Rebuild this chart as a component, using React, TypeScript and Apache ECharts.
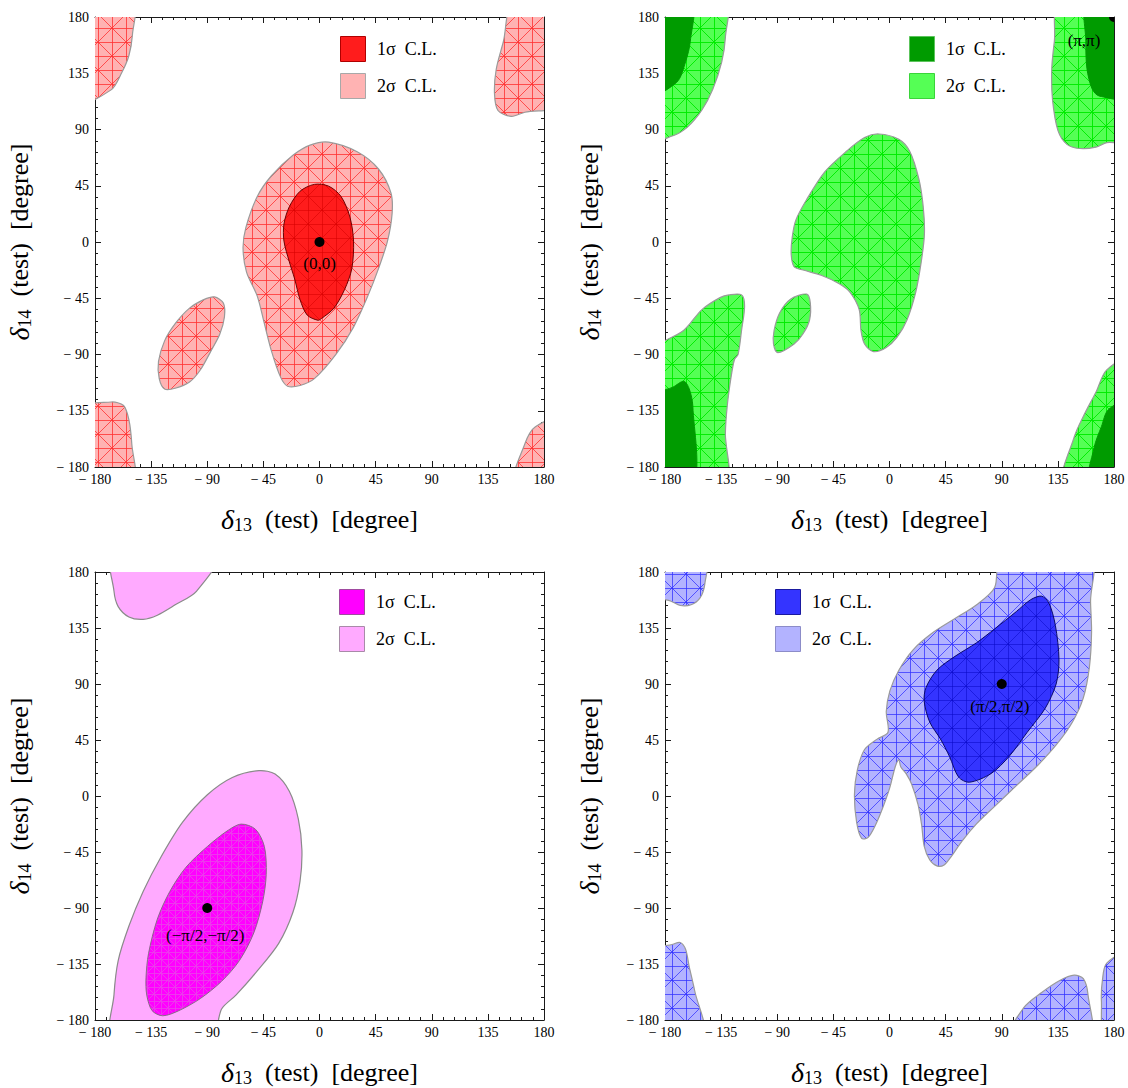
import React, { useEffect, useRef } from "react";
import * as echarts from "echarts";

type Pt = [number, number];

const FONT = '"Liberation Serif", "Times New Roman", serif';
const AXIS_MIN = -180;
const AXIS_MAX = 180;
const AXIS_STEP = 45;
const TICKS = [-180, -135, -90, -45, 0, 45, 90, 135, 180];

const X_TITLE = "{d|δ}{s|13}{t|  (test)  [degree]}";
const Y_TITLE = "{d|δ}{s|14}{t|  (test)  [degree]}";
const LEGEND_1S = "1σ  C.L.";
const LEGEND_2S = "2σ  C.L.";

// ---- true values (0, 0): red ----
const RED_BEST: Pt = [0, 0];
const RED_2S: Pt[][] = [
  [[7.3, 79.9], [30.2, 72.2], [47.3, 58.4], [57.3, 39.2], [58.2, 22.7], [54.5, 0.7], [47.3, -21.3], [38.7, -43.3], [27.3, -68.1], [13, -90.1], [-4.1, -109.3], [-15.6, -114.8], [-25.6, -115.4], [-31.3, -107.9], [-38.5, -87.3], [-44.2, -65.3], [-49.9, -43.3], [-58.5, -24.1], [-61.3, -4.8], [-59, 11.7], [-49.9, 36.4], [-38.5, 53], [-21.3, 69.4], [-7, 77.7]],
  [[-84.2, -43.9], [-77.1, -48.8], [-76.2, -59.8], [-79.9, -73.6], [-87.1, -87.3], [-95.6, -102.4], [-104.2, -112], [-115.7, -117], [-124.2, -117.6], [-128.5, -109.3], [-129.1, -95.6], [-124.2, -79.1], [-115.7, -65.3], [-104.2, -52.9], [-92.8, -46.1]],
  [[-180, 180], [-149.4, 180], [-150, 165.7], [-152.8, 149.2], [-158.6, 135.4], [-167.1, 121.7], [-180, 111.2]],
  [[156, 180], [147.4, 160.2], [141.7, 138.2], [140.3, 118.9], [143.1, 105.2], [153.7, 100.5], [164.6, 103.8], [180, 110.7], [180, 180]],
  [[-180, -134.1], [-167.1, -128], [-157.1, -130.8], [-152.8, -142.3], [-150.5, -161.6], [-149.4, -180], [-180, -180]],
  [[156, -180], [164.6, -161.6], [173.1, -147.8], [180, -140.9], [180, -180]],
];
const RED_1S: Pt[][] = [
  [[-4.1, 46.1], [7.3, 44.7], [17.3, 36.4], [24.4, 19.9], [27.3, 0.7], [25.9, -21.3], [20.2, -37.8], [11.6, -52.9], [1.6, -61.2], [-1.3, -62.6], [-9.9, -58.4], [-15.6, -46.1], [-19.9, -29.6], [-24.2, -15.8], [-28.5, 0.7], [-28.5, 14.4], [-24.2, 28.2], [-15.6, 40.6]],
];

// ---- true values (π, π): green ----
const GREEN_BEST: Pt = [180, 180];
const GREEN_2S: Pt[][] = [
  [[-8.4, 86.4], [7.5, 82.2], [16.2, 72.6], [23.5, 50.6], [27, 28.5], [28, 6.5], [25.5, -15.5], [21, -40.3], [14, -62.4], [6.1, -76.1], [-2.6, -84.4], [-12.8, -87.7], [-20, -81.6], [-22.9, -70.6], [-24.3, -54.1], [-31.6, -40.3], [-40.3, -33.4], [-54.8, -26.6], [-69.3, -22.4], [-76.5, -19.7], [-78.8, -10], [-78, 3.7], [-75.1, 17.5], [-66.4, 34], [-51.9, 56.1], [-34.5, 72.6], [-20, 83.6]],
  [[-66.4, -41.7], [-63.5, -48.6], [-64.1, -62.4], [-69.3, -73.4], [-76.5, -81.6], [-89.6, -88.5], [-93, -81.6], [-92.5, -70.6], [-88.1, -56.8], [-79.4, -45.8]],
  [[-180, -91.3], [-164.9, -70.6], [-150.4, -54.1], [-135.9, -44.5], [-128.7, -42.3], [-118.6, -42.3], [-116.2, -51.3], [-118.6, -70.6], [-121.4, -89.9], [-124.3, -94], [-127.2, -109.2], [-130.1, -131.2], [-131.6, -153.2], [-131.6, -180], [-180, -180]],
  [[-180, 180], [-131.6, 180], [-131.6, 163.5], [-134.5, 144.2], [-141.7, 122.2], [-150.4, 105.6], [-162, 91.9], [-173.6, 85], [-180, 80.9]],
  [[136.5, 180], [132.2, 160.7], [130.1, 138.7], [130.7, 113.9], [135.1, 89.1], [142.3, 78.1], [152.5, 74.8], [165.5, 75.9], [174.2, 79.5], [180, 81.4], [180, 180]],
  [[139.4, -180], [148.1, -156], [156.8, -136.7], [165.5, -120.2], [174.2, -102.3], [180, -92.7], [180, -180]],
];
const GREEN_1S: Pt[][] = [
  [[-180, -125.7], [-173.6, -116.1], [-164.9, -111.4], [-160.6, -117.4], [-157.7, -131.2], [-157.7, -180], [-180, -180]],
  [[-180, 180], [-158.6, 180], [-159.7, 160.7], [-163.5, 144.2], [-170.7, 127.7], [-180, 116.7]],
  [[158.3, 180], [157.4, 160.7], [158.3, 138.7], [162.6, 122.2], [168.4, 116.7], [180, 116.1], [180, 180]],
  [[160.3, -180], [164.1, -164.3], [169.9, -147.7], [175.7, -133.9], [180, -125.7], [180, -180]],
];

// ---- true values (−π/2, −π/2): magenta ----
const MAGENTA_BEST: Pt = [-90, -90];
const MAGENTA_2S: Pt[][] = [
  [[-48.5, 20.4], [-35.6, 17.6], [-24.2, 3.8], [-17, -18.4], [-14.1, -43.4], [-15.6, -68.4], [-21.3, -93.4], [-32.7, -118.4], [-49.9, -140.6], [-67, -160], [-78.5, -171.1], [-87.1, -180], [-165.7, -180], [-164.8, -160], [-161.4, -132.2], [-152.8, -104.5], [-141.4, -76.7], [-127.1, -49], [-109.9, -21.2], [-89.9, 1], [-69.9, 14.9]],
  [[-165.7, 180], [-164.8, 164.7], [-161.4, 152.2], [-152.8, 143.9], [-141.4, 142], [-130, 145.3], [-115.7, 153.6], [-98.5, 164.7], [-81.3, 180]],
];
const MAGENTA_1S: Pt[][] = [
  [[-62.8, -22.6], [-51.3, -26.8], [-44.2, -40.6], [-42.7, -62.9], [-45.6, -85.1], [-52.7, -110], [-64.2, -132.2], [-78.5, -148.9], [-95.6, -162.8], [-112.8, -172.5], [-125.7, -176.6], [-134.2, -172.5], [-138.5, -160], [-139.1, -146.1], [-137.1, -126.7], [-130, -98.9], [-120, -76.7], [-107.1, -57.3], [-89.9, -40.6], [-74.2, -28.2]],
];

// ---- true values (π/2, π/2): blue ----
const BLUE_BEST: Pt = [90, 90];
const BLUE_2S: Pt[][] = [
  [[90.1, 180], [161.2, 180], [161.2, 156.5], [162, 131.5], [160.3, 103.8], [155.4, 78.9], [146.7, 59.5], [135.1, 42.9], [119.1, 24.9], [101.7, 8.3], [84.3, -8.3], [69.9, -22.2], [58.3, -36], [49.6, -48.5], [43.8, -55.4], [38, -56.2], [32.2, -51.2], [27.8, -40.2], [25.8, -23.5], [22.9, -6.9], [17.7, 9.7], [13.3, 18], [9, 23.5], [7.5, 29.1], [4.6, 23.5], [0.3, 6.9], [-5.5, -9.7], [-11.3, -23.5], [-17.1, -33.2], [-22.3, -34.1], [-26.4, -20.8], [-28.1, 1.4], [-25.8, 20.8], [-20, 37.4], [-9.9, 45.7], [-1.2, 51.2], [-2.6, 67.8], [0.3, 84.5], [7.5, 101.1], [19.1, 117.7], [35.1, 131.5], [52.5, 142.6], [69.9, 153.7], [84.3, 167.5]],
  [[-180, 180], [-147.5, 180], [-148.1, 170.3], [-151.9, 159.2], [-159.1, 153.7], [-167.8, 153.1], [-175.1, 156.5], [-180, 163.4]],
  [[175.7, 180], [180, 180], [180, 173.1]],
  [[-180, -126], [-173.6, -119.1], [-167.8, -117.7], [-163.5, -123.2], [-160.6, -137.1], [-156.2, -156.5], [-149, -180], [-180, -180]],
  [[95.9, -180], [107.5, -170.3], [122, -157.9], [136.5, -148.2], [148.1, -144], [155.4, -146.8], [159.1, -159.2], [160.3, -180]],
  [[180, -124.6], [174.2, -134.3], [170.7, -148.2], [169.9, -164.8], [172.8, -180], [180, -180]],
];
const BLUE_1S: Pt[][] = [
  [[122, 160.6], [127.8, 155.1], [133, 137.1], [135.9, 109.4], [133.6, 90], [124.9, 70.6], [110.4, 51.2], [95.9, 31.8], [81.4, 18], [64.1, 11.1], [55.4, 15.2], [48.1, 31.8], [40.9, 45.7], [32.2, 59.5], [27.8, 76.1], [29.3, 87.2], [38, 101.1], [52.5, 112.2], [69.9, 123.2], [84.3, 134.3], [101.7, 148.2], [113.3, 157.8]],
];

interface Panel {
  left: number; top: number; width: number; height: number;
  outer: Pt[][]; inner: Pt[][];
  outerFill: string; outerMesh: string | null; outerStroke: string;
  innerFill: string; innerMesh: string | null; innerStroke: string; innerMeshCell: number;
  innerSwatchStroke: string; outerSwatchStroke: string;
  best: Pt; bestLabel: string; labelOffset: [number, number];
  legendX: number; legendY: number;
}

const PANELS: Panel[] = [
  {
    left: 95, top: 17, width: 449, height: 450,
    outer: RED_2S, inner: RED_1S,
    outerFill: "#ffb3b3", outerMesh: "rgba(255,50,50,0.8)", outerStroke: "#9a9a9a",
    innerFill: "#ff1c1c", innerMesh: "rgba(215,0,0,0.55)", innerStroke: "#6e0000", innerMeshCell: 28,
    innerSwatchStroke: "#b00000", outerSwatchStroke: "#a8a8a8",
    best: RED_BEST, bestLabel: "(0,0)", labelOffset: [0, 21],
    legendX: 245, legendY: 19,
  },
  {
    left: 665, top: 17, width: 449, height: 450,
    outer: GREEN_2S, inner: GREEN_1S,
    outerFill: "#55ff55", outerMesh: "rgba(0,235,0,0.95)", outerStroke: "#9a9a9a",
    innerFill: "#009b00", innerMesh: null, innerStroke: "#009b00", innerMeshCell: 28,
    innerSwatchStroke: "#5cc45c", outerSwatchStroke: "#3ad43a",
    best: GREEN_BEST, bestLabel: "(π,π)", labelOffset: [-30, 23],
    legendX: 244, legendY: 19,
  },
  {
    left: 95, top: 572, width: 449, height: 449,
    outer: MAGENTA_2S, inner: MAGENTA_1S,
    outerFill: "#ffaaff", outerMesh: null, outerStroke: "#8a8a8a",
    innerFill: "#ff00ff", innerMesh: "rgba(235,60,235,0.9)", innerStroke: "#8a6a8a", innerMeshCell: 14,
    innerSwatchStroke: "#a04aa0", outerSwatchStroke: "#a88aa8",
    best: MAGENTA_BEST, bestLabel: "(−π/2,−π/2)", labelOffset: [-2, 27],
    legendX: 244, legendY: 17,
  },
  {
    left: 665, top: 572, width: 449, height: 449,
    outer: BLUE_2S, inner: BLUE_1S,
    outerFill: "#b3b3ff", outerMesh: "rgba(50,50,255,0.75)", outerStroke: "#9a9a9a",
    innerFill: "#3434ff", innerMesh: "rgba(10,10,200,0.55)", innerStroke: "#0a0a6a", innerMeshCell: 28,
    innerSwatchStroke: "#1a1aa0", outerSwatchStroke: "#8c8cc8",
    best: BLUE_BEST, bestLabel: "(π/2,π/2)", labelOffset: [-2, 22],
    legendX: 110, legendY: 17,
  },
];

function tickLabel(v: number): string {
  if (!TICKS.includes(v)) return "";
  return v < 0 ? `− ${-v}` : `${v}`;
}

// Square mesh tile (cell edges, midlines and both diagonals) used as a fill pattern.
function meshPattern(fill: string, line: string | null, cell: number, ox: number, oy: number): any {
  if (!line) return fill;
  const c = document.createElement("canvas");
  c.width = cell;
  c.height = cell;
  const g = c.getContext("2d")!;
  g.fillStyle = fill;
  g.fillRect(0, 0, cell, cell);
  g.strokeStyle = line;
  g.lineWidth = 1;
  const h = cell / 2;
  g.beginPath();
  [0.5, h + 0.5].forEach((p) => {
    g.moveTo(p, 0); g.lineTo(p, cell);
    g.moveTo(0, p); g.lineTo(cell, p);
  });
  g.moveTo(0, 0); g.lineTo(cell, cell);
  g.moveTo(cell, 0); g.lineTo(0, cell);
  g.stroke();
  return { image: c, repeat: "repeat", imageWidth: cell, imageHeight: cell, x: ox, y: oy };
}

// Vertices lying on the frame are pushed slightly outside so smoothing never pulls the fill off the edge.
const widen = (v: number) => (v >= AXIS_MAX ? v + 15 : v <= AXIS_MIN ? v - 15 : v);

function regionSeries(idx: number, polys: Pt[][], style: any) {
  return {
    type: "custom",
    xAxisIndex: idx * 2,
    yAxisIndex: idx * 2,
    clip: true,
    silent: true,
    data: polys.map((p) => p[0]),
    renderItem: (params: any, api: any) => {
      const poly = polys[params.dataIndex];
      const points = poly.map(([x, y]) => api.coord([widen(x), widen(y)]));
      return { type: "polygon", shape: { points, smooth: 0.3 }, style };
    },
  };
}

// Best-fit point with its label; clipped to the frame so a corner point shows as a quarter disc.
function bestFitSeries(idx: number, p: Panel) {
  return {
    type: "custom",
    xAxisIndex: idx * 2,
    yAxisIndex: idx * 2,
    clip: true,
    silent: true,
    z: 5,
    data: [p.best],
    renderItem: (_params: any, api: any) => {
      const [cx, cy] = api.coord([api.value(0), api.value(1)]);
      return {
        type: "group",
        children: [
          { type: "circle", shape: { cx, cy, r: 5 }, style: { fill: "#000" } },
          {
            type: "text",
            x: cx + p.labelOffset[0],
            y: cy + p.labelOffset[1],
            style: {
              text: p.bestLabel,
              fontFamily: FONT,
              fontSize: 17,
              fill: "#000",
              align: "center",
              textAlign: "center",
              verticalAlign: "middle",
              textVerticalAlign: "middle",
            },
          },
        ],
      };
    },
  };
}

function axesFor(idx: number) {
  const line = { color: "#1a1a1a", width: 1 };
  const base = {
    type: "value",
    gridIndex: idx,
    min: AXIS_MIN,
    max: AXIS_MAX,
    interval: AXIS_STEP,
    axisLine: { show: true, onZero: false, lineStyle: line },
    axisTick: { show: true, inside: true, length: 6, lineStyle: line },
    minorTick: { show: true, splitNumber: 5, length: 3, lineStyle: line },
    splitLine: { show: false },
    minorSplitLine: { show: false },
  };
  const label = { show: true, fontFamily: FONT, fontSize: 14, color: "#000", formatter: tickLabel };
  const titleStyle = {
    fontFamily: FONT,
    fontSize: 26,
    color: "#000",
    rich: {
      d: { fontFamily: FONT, fontSize: 28, fontStyle: "italic", color: "#000", lineHeight: 30 },
      s: { fontFamily: FONT, fontSize: 18, color: "#000", lineHeight: 20, verticalAlign: "bottom" },
      t: { fontFamily: FONT, fontSize: 26, color: "#000", lineHeight: 30 },
    },
  };
  return {
    x: [
      { ...base, position: "bottom", axisLabel: { ...label, margin: 5 }, name: X_TITLE, nameLocation: "middle", nameGap: 37, nameTextStyle: titleStyle },
      { ...base, position: "top", axisLabel: { show: false } },
    ],
    y: [
      { ...base, position: "left", axisLabel: { ...label, margin: 6 }, name: Y_TITLE, nameLocation: "middle", nameGap: 61, nameRotate: 90, nameTextStyle: titleStyle },
      { ...base, position: "right", axisLabel: { show: false } },
    ],
  };
}

function legendGraphics(p: Panel): any[] {
  const x0 = p.left + p.legendX;
  const y0 = p.top + p.legendY;
  const rows = [
    { text: LEGEND_1S, fill: p.innerFill, stroke: p.innerSwatchStroke },
    { text: LEGEND_2S, fill: p.outerFill, stroke: p.outerSwatchStroke },
  ];
  const out: any[] = [];
  rows.forEach((r, i) => {
    const y = y0 + i * 37;
    out.push({
      type: "rect",
      silent: true,
      shape: { x: x0 + 0.5, y: y + 0.5, width: 25, height: 25 },
      style: { fill: r.fill, stroke: r.stroke, lineWidth: 1 },
    });
    out.push({
      type: "text",
      silent: true,
      x: x0 + 37,
      y: y + 13,
      style: {
        text: r.text,
        fontFamily: FONT,
        fontSize: 18,
        fill: "#000",
        align: "left",
        textAlign: "left",
        verticalAlign: "middle",
        textVerticalAlign: "middle",
      },
    });
  });
  return out;
}

export default function App() {
  const ref = useRef<HTMLDivElement>(null);

  useEffect(() => {
    if (!ref.current) return;
    const chart = echarts.init(ref.current, undefined, { renderer: "svg" });

    const grids: any[] = [];
    const xAxes: any[] = [];
    const yAxes: any[] = [];
    const series: any[] = [];
    const graphics: any[] = [];

    PANELS.forEach((p, i) => {
      grids.push({ left: p.left, top: p.top, width: p.width, height: p.height, containLabel: false });
      const ax = axesFor(i);
      xAxes.push(...ax.x);
      yAxes.push(...ax.y);

      const ox = p.left + p.width / 2;
      const oy = p.top + p.height / 2;
      series.push(
        regionSeries(i, p.outer, {
          fill: meshPattern(p.outerFill, p.outerMesh, 28, ox, oy),
          stroke: p.outerStroke,
          lineWidth: 1.2,
        })
      );
      series.push(
        regionSeries(i, p.inner, {
          fill: meshPattern(p.innerFill, p.innerMesh, p.innerMeshCell, ox, oy),
          stroke: p.innerStroke,
          lineWidth: 1,
        })
      );
      series.push(bestFitSeries(i, p));
      graphics.push(...legendGraphics(p));
    });

    chart.setOption({
      animation: false,
      backgroundColor: "#ffffff",
      grid: grids,
      xAxis: xAxes,
      yAxis: yAxes,
      series,
      graphic: { elements: graphics },
    });

    return () => chart.dispose();
  }, []);

  return (
    <div
      ref={ref}
      style={{ position: "absolute", left: 0, top: 0, width: 1128, height: 1088, background: "#fff" }}
    />
  );
}
